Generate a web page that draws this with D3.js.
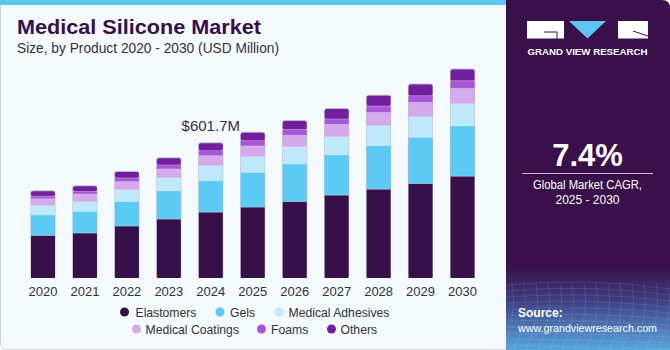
<!DOCTYPE html>
<html>
<head>
<meta charset="utf-8">
<script src="https://cdn.jsdelivr.net/npm/d3@7"></script>
<style>
  body { margin: 0; background: #fff; }
  svg { display: block; font-family: "Liberation Sans", Arial, sans-serif; }
</style>
</head>
<body>
<script>
// chart data
var years = ["2020","2021","2022","2023","2024","2025","2026","2027","2028","2029","2030"];
var seriesNames = ["Elastomers","Gels","Medical Adhesives","Medical Coatings","Foams","Others"];
var elastomers = [190, 200.6, 231.8, 263, 294, 316.5, 341.7, 370, 396.7, 422, 454.6];
var gels       = [92, 96.5, 110, 126, 141, 154.5, 168, 179.7, 194.6, 206.5, 224.4];
var adhesives  = [42, 43.5, 52, 58, 67, 71.3, 75.8, 81.7, 89, 92, 99.5];
var coatings   = [30, 34, 37, 40, 44.6, 47.5, 52, 55, 59.4, 64, 68.4];
var foams      = [11, 11.5, 16.3, 17.8, 22.3, 23.8, 25.3, 23.8, 28.2, 29.7, 34.2];
var others     = [22, 23.8, 26.7, 29.7, 32.7, 35.7, 38.6, 44.6, 46.1, 50.5, 50.5];
var colors = ["#381049", "#5BCBF6", "#BEE9FA", "#D5AAEC", "#A855D9", "#71209D"];
var labelYear = "2024", labelText = "$601.7M";

var w = 670, h = 350;

var svg = d3.select("body").append("svg")
    .attr("width", w)
    .attr("height", h);

// card background + border
svg.append("rect").attr("x", 0).attr("y", 0).attr("width", w).attr("height", h).style("fill", "#ffffff");
svg.append("rect")
    .attr("x", 0.5).attr("y", -10).attr("width", 540).attr("height", h - 0.5 + 10)
    .attr("rx", 6)
    .style("fill", "#F4F9FC").style("stroke", "#cfd3d6");
svg.append("rect").attr("x", 0).attr("y", 0).attr("width", 506).attr("height", 5).style("fill", "#5CC8F0");

// right panel
var defs = svg.append("defs");
var grad = defs.append("linearGradient").attr("id", "pgrad")
    .attr("x1", 0).attr("y1", 0).attr("x2", 0).attr("y2", 1);
grad.append("stop").attr("offset", "0.76").attr("stop-color", "#391049");
grad.append("stop").attr("offset", "0.86").attr("stop-color", "#403f83");
grad.append("stop").attr("offset", "1").attr("stop-color", "#55a7df");

svg.append("path")
    .attr("d", "M506,0 H662 Q670,0 670,8 V350 H506 Z")
    .style("fill", "url(#pgrad)");

// faint mesh in the source area
var mesh = svg.append("g").style("stroke", "#ffffff").style("stroke-opacity", 0.13).style("fill", "none").style("stroke-width", 0.7);
d3.range(0, 12).forEach(function(i){
    var yy = 285 + i * 6;
    mesh.append("path").attr("d", "M506," + yy + " Q590," + (yy - 8 + i) + " 670," + (yy + 4));
});
d3.range(0, 16).forEach(function(i){
    var xx = 500 + i * 12;
    mesh.append("path").attr("d", "M" + xx + ",282 Q" + (xx + 6) + ",315 " + (xx - 10) + ",350");
});

// logo
var logo = svg.append("g");
logo.append("rect").attr("x", 527).attr("y", 21).attr("width", 37).attr("height", 17.5).style("fill", "#fff");
logo.append("path").attr("d", "M544,32 H557 V38.5").style("stroke", "#391049").style("stroke-width", 1).style("fill", "none");
logo.append("path").attr("d", "M569,21 H606 L587.5,38.5 Z").style("fill", "#5CC8F0");
logo.append("rect").attr("x", 618).attr("y", 21).attr("width", 30).attr("height", 17.5).style("fill", "#fff");
logo.append("path").attr("d", "M633,31 L648,36").style("stroke", "#391049").style("stroke-width", 1);
logo.append("text").attr("x", 587.5).attr("y", 55).attr("text-anchor", "middle")
    .attr("textLength", 120).attr("lengthAdjust", "spacingAndGlyphs")
    .style("fill", "#fff").style("font-size", "9.6px").style("font-weight", "bold")
    .text("GRAND VIEW RESEARCH");

// CAGR block
svg.append("text").attr("x", 587.5).attr("y", 166).attr("text-anchor", "middle")
    .style("fill", "#fff").style("font-size", "31px").style("font-weight", "bold")
    .text("7.4%");
svg.append("line").attr("x1", 522).attr("x2", 653).attr("y1", 173.5).attr("y2", 173.5)
    .style("stroke", "#c9b8d6").style("stroke-width", 1);
svg.append("text").attr("x", 587.5).attr("y", 189).attr("text-anchor", "middle")
    .attr("textLength", 109).attr("lengthAdjust", "spacingAndGlyphs")
    .style("fill", "#fff").style("font-size", "12.5px").text("Global Market CAGR,");
svg.append("text").attr("x", 587.5).attr("y", 204).attr("text-anchor", "middle")
    .style("fill", "#fff").style("font-size", "12px").text("2025 - 2030");

// source
svg.append("text").attr("x", 518).attr("y", 317)
    .style("fill", "#fff").style("font-size", "12px").style("font-weight", "bold").text("Source:");
svg.append("text").attr("x", 518).attr("y", 332)
    .style("fill", "#fff").style("font-size", "10.7px").text("www.grandviewresearch.com");

// titles
svg.append("text").attr("x", 17).attr("y", 34)
    .attr("textLength", 244).attr("lengthAdjust", "spacingAndGlyphs")
    .style("fill", "#381049").style("font-size", "21px").style("font-weight", "bold")
    .text("Medical Silicone Market");
svg.append("text").attr("x", 17).attr("y", 53)
    .attr("textLength", 262).attr("lengthAdjust", "spacingAndGlyphs")
    .style("fill", "#333").style("font-size", "14px")
    .text("Size, by Product 2020 - 2030 (USD Million)");

// scales
var x = d3.scaleBand()
    .domain(years)
    .range([22, 483.5])
    .paddingInner(0.428)
    .paddingOuter(0.214);

var y = d3.scaleLinear()
    .domain([0, 601.7])
    .range([278, 143.3]);

var rows = years.map(function(yr, i){
    return {
        year: yr,
        "Elastomers": elastomers[i],
        "Gels": gels[i],
        "Medical Adhesives": adhesives[i],
        "Medical Coatings": coatings[i],
        "Foams": foams[i],
        "Others": others[i]
    };
});

var stack = d3.stack().keys(seriesNames)(rows);

function total(d){ return d3.sum(seriesNames, function(k){ return d[k]; }); }

// bar outline behind stacks
svg.append("g").selectAll(".outline")
    .data(rows)
    .enter()
    .append("rect")
    .attr("class", "outline")
    .attr("x", function(d){ return x(d.year) - 0.5; })
    .attr("width", x.bandwidth() + 1)
    .attr("y", function(d){ return y(total(d)) - 1; })
    .attr("height", function(d){ return y(0) - y(total(d)) + 1; })
    .attr("rx", 3)
    .style("fill", "#c4b5cf");

var layers = svg.append("g").selectAll(".layer")
    .data(stack)
    .enter()
    .append("g")
    .attr("class", "layer")
    .style("fill", function(d, i){ return colors[i]; });

layers.selectAll("rect")
    .data(function(d){ return d; })
    .enter()
    .append("rect")
    .attr("x", function(d){ return x(d.data.year); })
    .attr("width", x.bandwidth())
    .attr("y", function(d){ return y(d[1]); })
    .attr("height", function(d){ return y(d[0]) - y(d[1]); })
    .attr("rx", function(d){ return d[1] === total(d.data) ? 2 : 0; });

// thin separators between segments
layers.filter(function(d, i){ return i > 0; })
    .selectAll("line")
    .data(function(d){ return d; })
    .enter()
    .append("line")
    .attr("x1", function(d){ return x(d.data.year); })
    .attr("x2", function(d){ return x(d.data.year) + x.bandwidth(); })
    .attr("y1", function(d){ return y(d[0]); })
    .attr("y2", function(d){ return y(d[0]); })
    .style("stroke", "#ffffff").style("stroke-opacity", 0.35).style("stroke-width", 0.8);

// x axis labels
var xAxis = d3.axisBottom(x).tickSize(0).tickPadding(9);
svg.append("g")
    .attr("class", "axis")
    .attr("transform", "translate(0," + y(0) + ")")
    .call(xAxis)
    .call(function(g){ g.select(".domain").remove(); })
    .selectAll("text")
    .style("font-family", "'Liberation Sans', Arial, sans-serif")
    .style("font-size", "13px")
    .style("fill", "#333");

// value label above 2024
var lblIdx = years.indexOf(labelYear);
svg.append("text")
    .attr("x", x(labelYear) + x.bandwidth() / 2)
    .attr("y", y(total(rows[lblIdx])) - 12)
    .attr("text-anchor", "middle")
    .style("fill", "#333").style("font-size", "15px")
    .text(labelText);

// legend
var legendPos = [
    {cx: 124.5, cy: 312, tx: 135.5},
    {cx: 220, cy: 312, tx: 230},
    {cx: 279, cy: 312, tx: 288.5},
    {cx: 136.5, cy: 329, tx: 145.5},
    {cx: 261.5, cy: 329, tx: 271},
    {cx: 331.5, cy: 329, tx: 340.5}
];
var legend = svg.append("g").selectAll(".legend")
    .data(seriesNames)
    .enter()
    .append("g")
    .attr("class", "legend");
legend.append("circle")
    .attr("cx", function(d, i){ return legendPos[i].cx; })
    .attr("cy", function(d, i){ return legendPos[i].cy; })
    .attr("r", 4.5)
    .style("fill", function(d, i){ return colors[i]; });
legend.append("text")
    .attr("x", function(d, i){ return legendPos[i].tx; })
    .attr("y", function(d, i){ return legendPos[i].cy + 4.5; })
    .style("fill", "#333").style("font-size", "12.2px")
    .text(function(d){ return d; });
</script>
</body>
</html>
